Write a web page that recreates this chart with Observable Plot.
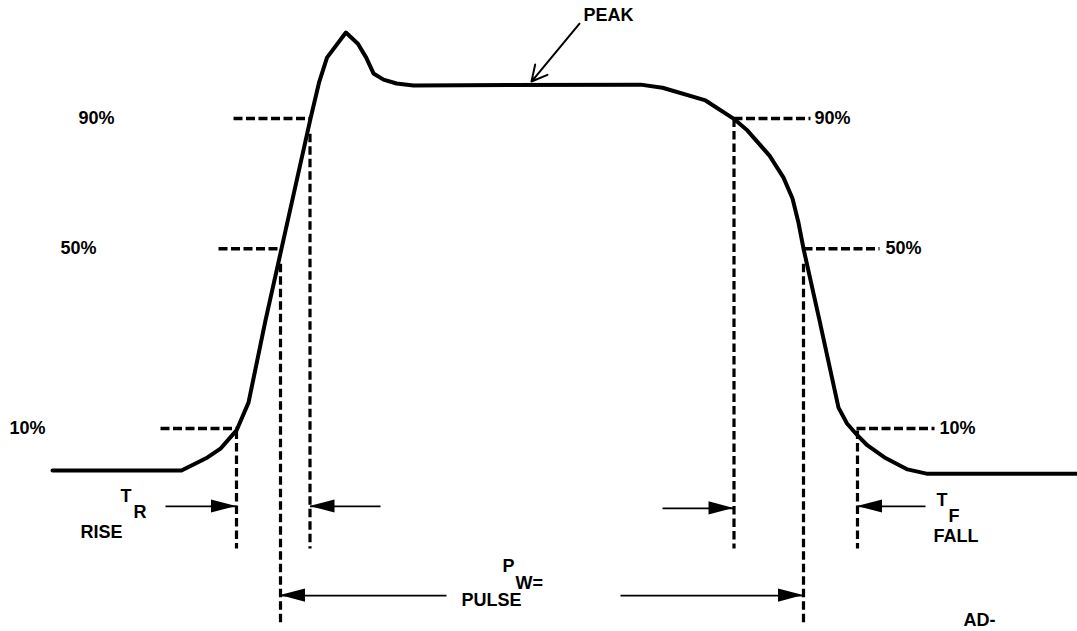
<!DOCTYPE html>
<html>
<head>
<meta charset="utf-8">
<script src="https://cdn.jsdelivr.net/npm/d3@7"></script>
<script src="https://cdn.jsdelivr.net/npm/@observablehq/plot@0.6"></script>
<style>
  html, body { margin: 0; padding: 0; background: #fff; }
  #chart svg { display: block; }
</style>
</head>
<body>
<div id="chart"></div>
<script>
// ---- Data (time in arbitrary units, amplitude in % of plateau) ----
const waveT = [52,181,207,220,236,248,265,281,310,318.5,326.5,345.4,357.4,365.7,373,383,396,413,640,662,705,733,747,769,783,792,798,803,819,838,846.5,857,867,884,907,926,1077];
const waveA = [0,0,3.4,5.7,10.4,17.6,38.9,57.5,91.2,100.5,107.0,113.5,110.6,107.0,102.9,101.3,100.3,99.8,100,99.2,95.9,91.2,88.1,81.6,75.9,70.5,64.2,57.5,38.9,16.3,12.2,9.1,6.5,3.4,0.3,-0.8,-0.8];

// horizontal dashed level markers
const levelX1 = [233, 218, 160, 733, 803, 856];
const levelX2 = [310, 281, 236, 810, 879, 934];
const levelA  = [91.2, 57.5, 10.9, 91.2, 57.5, 10.9];

// vertical dashed timing markers
const markT      = [236, 309.5, 280, 733.5, 803, 857];
const markTop    = [10.4, 87.3, 53.6, 91.2, 53.6, 10.4];
const markBottom = [-20.2, -20.2, -39.9, -20.2, -39.9, -20.2];

// dimension arrows (filled heads at "to")
const arrowFrom = [165, 380, 662, 925, 446, 620];
const arrowTo   = [236, 309.5, 733.5, 857, 280, 803];
const arrowA    = [-9.3, -9.3, -9.8, -9.3, -32.4, -32.4];

// PEAK pointer
const peakFrom = [579, 115.8];
const peakTo   = [531, 100.8];

// text labels
const labelText = ["90%","50%","10%","90%","50%","10%","PEAK","T","R","RISE","P","W=","PULSE","T","F","FALL","AD-"];
const labelT    = [78, 60, 9, 814, 885, 939, 583, 120, 133, 80, 502, 515, 461, 936, 948, 933, 963];
const labelA    = [91.2, 57.5, 10.9, 91.2, 57.5, 10.9, 118.1, -6.7, -10.9, -16.1, -24.9, -29.3, -33.7, -7.8, -11.9, -17.1, -38.9];

// ---- Build tables ----
const wave = waveT.map((t, i) => ({t, a: waveA[i]}));
const levels = levelA.map((a, i) => ({x1: levelX1[i], x2: levelX2[i], a}));
const marks = markT.map((t, i) => ({t, top: markTop[i], bottom: markBottom[i]}));
const arrows = arrowFrom.map((f, i) => ({from: f, to: arrowTo[i], a: arrowA[i], id: i}));
const labels = labelText.map((s, i) => ({s, t: labelT[i], a: labelA[i]}));

const headLen = 25;   // time units
const headHalf = 1.7; // amplitude units
const heads = arrows.flatMap(d => {
  const dir = Math.sign(d.to - d.from);
  return [
    {id: d.id, x: d.to - dir * headLen, y1: d.a - headHalf, y2: d.a + headHalf},
    {id: d.id, x: d.to, y1: d.a, y2: d.a}
  ];
});

const font = "'Liberation Sans', Arial, Helvetica, sans-serif";

const chart = Plot.plot({
  width: 1077,
  height: 631,
  margin: 0,
  style: {background: "#fff"},
  x: {domain: [0, 1077], axis: null},
  y: {domain: [-41.7, 121.8], axis: null},
  marks: [
    Plot.link(levels, {x1: "x1", x2: "x2", y1: "a", y2: "a", stroke: "#000", strokeWidth: 3.5, strokeDasharray: "9,3.5"}),
    Plot.link(marks, {x1: "t", x2: "t", y1: "top", y2: "bottom", stroke: "#000", strokeWidth: 3.2, strokeDasharray: "8.5,4"}),
    Plot.line(wave, {x: "t", y: "a", stroke: "#000", strokeWidth: 4, strokeLinejoin: "round", strokeLinecap: "round", curve: "linear"}),
    Plot.link(arrows, {x1: "from", x2: "to", y1: "a", y2: "a", stroke: "#000", strokeWidth: 1.8}),
    Plot.areaY(heads, {x: "x", y1: "y1", y2: "y2", z: "id", fill: "#000"}),
    Plot.arrow([{}], {x1: () => peakFrom[0], y1: () => peakFrom[1], x2: () => peakTo[0], y2: () => peakTo[1], stroke: "#000", strokeWidth: 2, headLength: 13, headAngle: 55}),
    Plot.text(labels, {x: "t", y: "a", text: "s", textAnchor: "start", fontSize: 18, fontWeight: "bold", fontFamily: font, fill: "#000"})
  ]
});
document.getElementById("chart").appendChild(chart);
</script>
</body>
</html>
